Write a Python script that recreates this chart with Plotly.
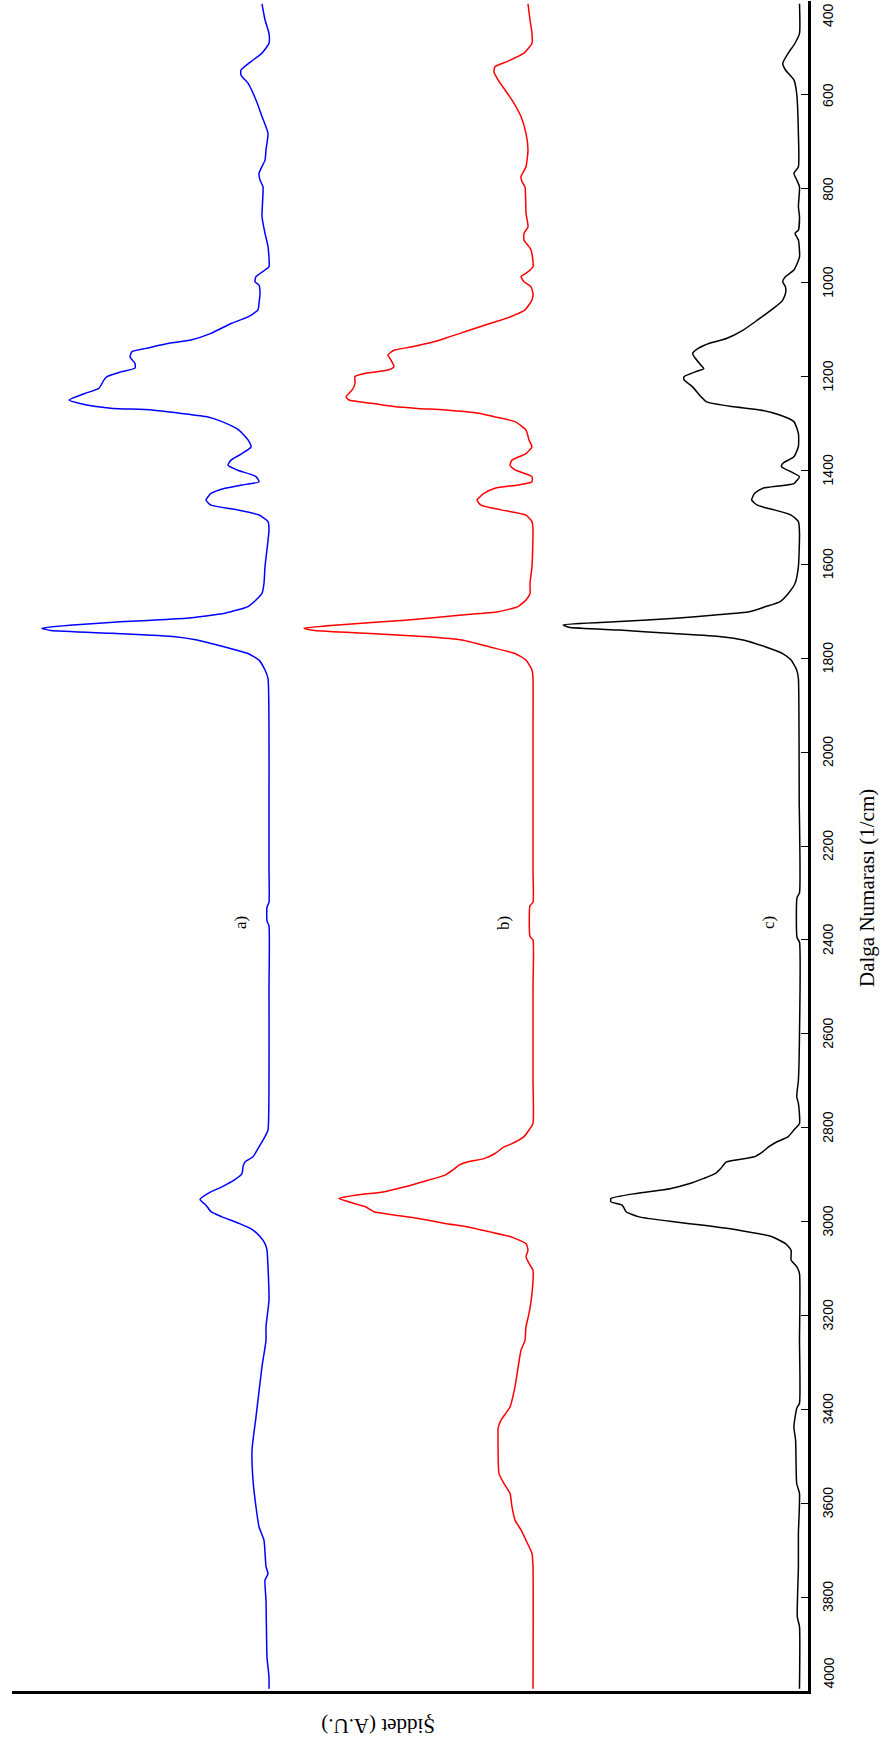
import plotly.graph_objects as go

# ---------------- data ----------------
# wavenumbers (1/cm) and intensities (A.U., arbitrary offset units)
wn_a = [406, 440, 469, 490, 511, 529, 547, 558, 575, 611,
        646, 682, 717, 739, 767, 781, 796, 859, 895, 923,
        966, 973, 987, 998, 1005, 1023, 1044, 1058, 1073, 1087,
        1108, 1122, 1129, 1140, 1147, 1158, 1172, 1182, 1190, 1200,
        1207, 1225, 1236, 1250, 1257, 1264, 1268, 1271, 1278, 1286,
        1296, 1314, 1335, 1350, 1364, 1378, 1389, 1399, 1413, 1424,
        1431, 1438, 1449, 1463, 1474, 1484, 1495, 1509, 1527, 1605,
        1640, 1662, 1676, 1690, 1704, 1715, 1722, 1729, 1736, 1741,
        1747, 1754, 1761, 1776, 1790, 1804, 1825, 1843, 1950, 2100,
        2250, 2320, 2330, 2360, 2370, 2500, 2699, 2805, 2819, 2841,
        2862, 2873, 2883, 2898, 2912, 2926, 2940, 2953, 2965, 2979,
        2990, 3004, 3018, 3032, 3047, 3061, 3096, 3167, 3224, 3253,
        3309, 3416, 3487, 3551, 3608, 3650, 3679, 3735, 3750, 3764,
        3807, 3928, 3970, 3995]
int_a = [546, 543, 539, 539, 546, 557, 567, 567, 560, 552,
         546, 540, 542, 543, 549, 548, 545, 546, 543, 540,
         539, 543, 552, 553, 549, 548, 549, 550, 560, 577,
         597, 617, 639, 662, 676, 678, 673, 673, 687, 701,
         704, 709, 723, 739, 729, 712, 695, 656, 628, 600,
         586, 569, 560, 557, 566, 577, 580, 571, 552, 549,
         566, 583, 597, 602, 597, 571, 549, 540, 539, 543,
         544, 546, 552, 560, 583, 622, 684, 735, 766, 757,
         695, 633, 611, 583, 560, 549, 543, 540, 539, 539,
         539, 539, 541, 541, 539, 539, 539, 540, 543, 549,
         555, 563, 565, 566, 574, 586, 600, 608, 602, 597,
         586, 569, 555, 548, 543, 541, 540, 539, 542, 542,
         546, 552, 556, 555, 552, 549, 544, 542, 540, 543,
         542, 541, 539, 539]

wn_b = [406, 440, 469, 490, 511, 529, 540, 551, 568, 611,
        646, 682, 717, 753, 774, 785, 796, 852, 881, 895,
        909, 930, 966, 980, 987, 998, 1009, 1023, 1037, 1058,
        1073, 1087, 1101, 1115, 1126, 1137, 1144, 1154, 1165, 1179,
        1186, 1193, 1200, 1215, 1229, 1243, 1250, 1257, 1264, 1268,
        1271, 1278, 1286, 1296, 1314, 1335, 1350, 1364, 1378, 1389,
        1399, 1413, 1424, 1431, 1438, 1449, 1463, 1474, 1484, 1495,
        1509, 1527, 1605, 1640, 1662, 1676, 1690, 1701, 1708, 1719,
        1729, 1736, 1741, 1747, 1754, 1761, 1776, 1790, 1804, 1825,
        1843, 1950, 2100, 2250, 2320, 2327, 2393, 2400, 2500, 2699,
        2791, 2805, 2819, 2834, 2841, 2855, 2866, 2873, 2880, 2890,
        2901, 2912, 2926, 2937, 2944, 2951, 2960, 2969, 2979, 2986,
        2993, 3004, 3011, 3022, 3032, 3047, 3061, 3075, 3089, 3104,
        3153, 3196, 3224, 3253, 3274, 3352, 3395, 3423, 3441, 3451,
        3537, 3558, 3579, 3608, 3636, 3657, 3679, 3707, 3735, 3995]
int_b = [280, 278, 276, 276, 284, 301, 313, 314, 310, 296,
         287, 282, 280, 282, 287, 286, 283, 282, 280, 284,
         284, 277, 275, 282, 287, 284, 277, 275, 276, 283,
         298, 318, 338, 358, 374, 397, 414, 420, 417, 414,
         420, 442, 453, 453, 456, 462, 459, 436, 414, 391,
         363, 329, 313, 293, 282, 279, 276, 282, 296, 298,
         293, 276, 276, 290, 313, 324, 331, 327, 307, 282,
         276, 275, 276, 278, 278, 282, 290, 310, 346, 403,
         470, 504, 493, 442, 380, 346, 318, 293, 282, 276,
         275, 275, 275, 275, 275, 278, 278, 275, 275, 275,
         275, 279, 284, 296, 304, 313, 324, 341, 349, 355,
         363, 380, 403, 425, 453, 469, 456, 442, 434, 414,
         391, 363, 341, 318, 298, 282, 280, 282, 279, 275,
         276, 279, 282, 283, 287, 293, 298, 307, 310, 310,
         309, 304, 298, 296, 293, 287, 282, 276, 275, 275]

wn_c = [406, 469, 490, 511, 533, 547, 568, 597, 682, 753,
        767, 781, 796, 838, 860, 888, 895, 909, 945, 973,
        987, 998, 1009, 1023, 1037, 1044, 1058, 1080, 1101, 1119,
        1129, 1140, 1151, 1161, 1176, 1183, 1190, 1200, 1207, 1222,
        1243, 1254, 1264, 1271, 1282, 1296, 1321, 1349, 1371, 1385,
        1392, 1403, 1413, 1428, 1438, 1449, 1463, 1474, 1484, 1495,
        1509, 1534, 1605, 1641, 1662, 1680, 1690, 1701, 1708, 1715,
        1722, 1729, 1734, 1740, 1747, 1754, 1761, 1776, 1790, 1804,
        1825, 1843, 1950, 2100, 2300, 2310, 2395, 2405, 2600, 2699,
        2734, 2748, 2791, 2805, 2819, 2830, 2841, 2851, 2862, 2873,
        2887, 2898, 2908, 2919, 2930, 2940, 2951, 2958, 2965, 2979,
        2990, 3001, 3008, 3018, 3032, 3047, 3061, 3082, 3096, 3111,
        3253, 3387, 3398, 3437, 3466, 3558, 3579, 3665, 3736, 3842,
        3863, 3995]
int_c = [8.5, 8.5, 13, 19.7, 25.3, 22.5, 14.1, 11.3, 9.6, 9.6,
         14.1, 11.3, 8.5, 9.6, 8.5, 9.6, 13, 9.6, 8.5, 14.1,
         22.5, 25.3, 22.5, 22.5, 25.3, 28.2, 36.6, 50.7, 64.8, 81.6,
         98.5, 109.8, 115.4, 112.7, 107, 104.2, 112.7, 123.9, 123.9, 115.4,
         107, 101.4, 76, 47.9, 28.2, 14.1, 9.6, 9.6, 14.1, 25.3,
         26.5, 16.9, 8.5, 14.1, 45.1, 53.5, 56.3, 50.7, 33.8, 16.9,
         9.6, 8.5, 9.6, 13, 19.7, 28.2, 42.2, 58.6, 92.9, 132.3,
         188.6, 244.9, 239.3, 188.6, 139, 87, 64.8, 42.2, 25.3, 16.9,
         11.3, 9.6, 9, 8.8, 8.5, 11, 11, 8.5, 8.5, 9.6,
         11.3, 9.6, 8.5, 14.1, 19.7, 31, 39.4, 45.1, 53.5, 81.6,
         87.3, 92.9, 104.2, 118.2, 138, 171.7, 197.1, 197.1, 185.8, 181.9,
         168.9, 132.3, 104.2, 70.4, 36.6, 22.5, 16.9, 16.9, 11.3, 8.5,
         8.5, 8.5, 11.3, 14.1, 12.4, 11.3, 8.5, 9.6, 9.6, 10.7,
         8.5, 8.5]

series_names = ["a)", "b)", "c)"]
series_colors = ["#0000ff", "#ff0000", "#000000"]
label_pos_wn = 2364
label_pos_int = [567, 304, 39]

tick_vals = [400, 600, 800, 1000, 1200, 1400, 1600, 1800, 2000, 2200,
             2400, 2600, 2800, 3000, 3200, 3400, 3600, 3800, 4000]
tick_text = [str(v) for v in tick_vals]

x_title = "Şiddet (A.U.)"
y_title = "Dalga Numarası (1/cm)"

# ---------------- figure ----------------
W, H = 884, 1746
ML, MR, MT, MB = 12, 76, 1, 55
PW = W - ML - MR
PH = H - MT - MB

fig = go.Figure()
for wn, it, col, nm in zip([wn_a, wn_b, wn_c], [int_a, int_b, int_c],
                           series_colors, series_names):
    fig.add_trace(go.Scatter(x=it, y=wn, mode="lines", name=nm,
                             line=dict(color=col, width=1.5, shape="spline",
                                       smoothing=0.5),
                             hoverinfo="skip"))

annotations = []
for nm, xi in zip(series_names, label_pos_int):
    annotations.append(dict(x=xi, y=label_pos_wn, xref="x", yref="y",
                            text=nm, showarrow=False, textangle=-90,
                            font=dict(family="Liberation Serif", size=17,
                                      color="black"),
                            xanchor="center", yanchor="middle"))

def px_to_paper_x(px):
    return (px - ML) / PW

def px_to_paper_y(py):
    return (H - MB - py) / PH

for i, (v, t) in enumerate(zip(tick_vals, tick_text)):
    if i == 0:
        ya = "top"
    elif i == len(tick_vals) - 1:
        ya = "bottom"
    else:
        ya = "middle"
    annotations.append(dict(x=px_to_paper_x(828), y=v, xref="paper", yref="y",
                            text=t, showarrow=False, textangle=-90,
                            font=dict(family="Liberation Sans", size=14,
                                      color="black"),
                            xanchor="center", yanchor=ya))

annotations.append(dict(x=px_to_paper_x(867), y=px_to_paper_y(888),
                        xref="paper", yref="paper", text=y_title,
                        showarrow=False, textangle=-90,
                        font=dict(family="Liberation Serif", size=21,
                                  color="black"),
                        xanchor="center", yanchor="middle"))
annotations.append(dict(x=px_to_paper_x(378), y=px_to_paper_y(1726),
                        xref="paper", yref="paper", text=x_title,
                        showarrow=False, textangle=180,
                        font=dict(family="Liberation Serif", size=21,
                                  color="black"),
                        xanchor="center", yanchor="middle"))

fig.update_layout(
    width=W, height=H,
    margin=dict(l=ML, r=MR, t=MT, b=MB, pad=0),
    paper_bgcolor="white", plot_bgcolor="white",
    showlegend=False,
    annotations=annotations,
    xaxis=dict(range=[796, 0], showgrid=False, zeroline=False,
               showline=True, linecolor="black", linewidth=3,
               showticklabels=False, ticks=""),
    yaxis=dict(range=[4000, 400], side="right", showgrid=False,
               zeroline=False, showline=True, linecolor="black",
               linewidth=3, tickvals=tick_vals, ticks="inside",
               ticklen=7, tickwidth=1, tickcolor="black",
               showticklabels=False),
)

fig.write_html("out.html")
